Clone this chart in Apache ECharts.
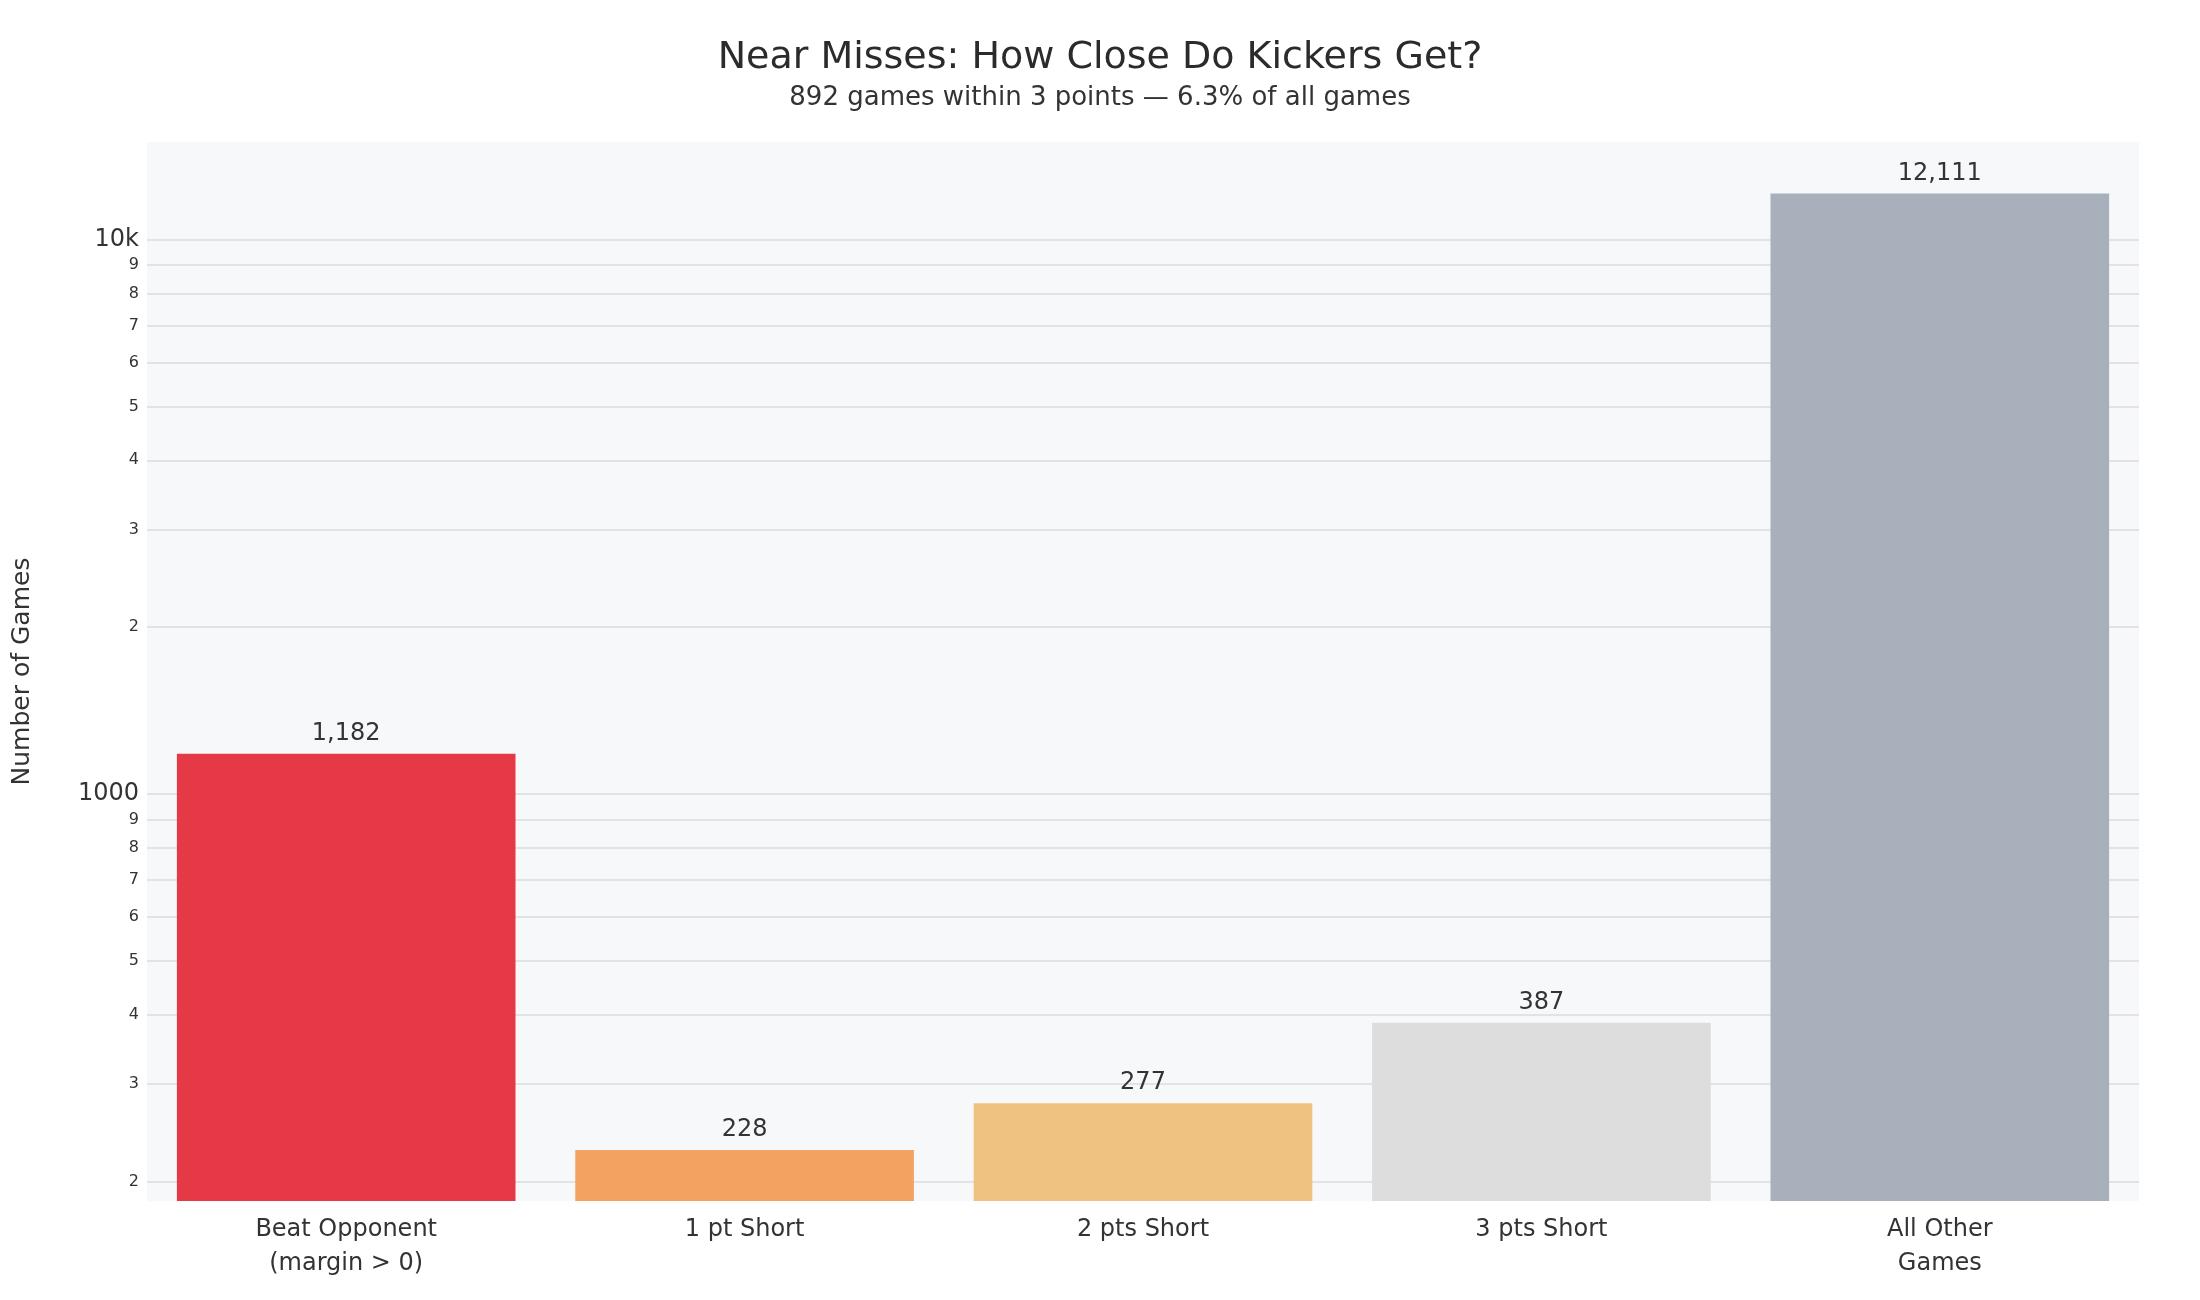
<!DOCTYPE html>
<html>
<head>
<meta charset="utf-8">
<script src="https://cdn.jsdelivr.net/npm/echarts@6/dist/echarts.min.js"></script>
<style>html,body{margin:0;padding:0;background:#fff}#main{width:2200px;height:1300px}</style>
</head>
<body>
<div id="main"></div>
<script>
const categories = ['Beat Opponent\n(margin > 0)', '1 pt Short', '2 pts Short', '3 pts Short', 'All Other\nGames'];
const games = [1182, 228, 277, 387, 12111];
const barColors = ['#e63946', '#f4a261', '#f0c27f', '#dddddd', '#a8b1bb'];
const gridValues = [200, 300, 400, 500, 600, 700, 800, 900, 1000, 2000, 3000, 4000, 5000, 6000, 7000, 8000, 9000, 10000];
const majorLabels = { 1000: '1000', 10000: '10k' };

const chart = echarts.init(document.getElementById('main'));
const font = 'DejaVu Sans';

chart.setOption({
  backgroundColor: '#ffffff',
  textStyle: { fontFamily: font },
  title: {
    text: 'Near Misses: How Close Do Kickers Get?',
    subtext: '892 games within 3 points \u2014 6.3% of all games',
    left: 'center', top: 34, itemGap: 8,
    textStyle: { fontFamily: font, fontSize: 38, fontWeight: 'normal', color: '#2b2b2b' },
    subtextStyle: { fontFamily: font, fontSize: 26, color: '#333' }
  },
  grid: { left: 147, right: 61, top: 142, bottom: 99, show: true, backgroundColor: '#f7f8fa', borderWidth: 0 },
  xAxis: {
    type: 'category', data: categories,
    axisLine: { show: false }, axisTick: { show: false },
    axisLabel: { fontSize: 24, color: '#333', lineHeight: 34, margin: 12 }
  },
  yAxis: {
    type: 'log', min: 184.5, max: 15000,
    name: 'Number of Games', nameLocation: 'middle', nameGap: 112,
    nameTextStyle: { fontSize: 25, color: '#333' },
    axisLabel: { show: false }, axisTick: { show: false }, axisLine: { show: false },
    splitLine: { show: false }
  },
  series: [
    {
      type: 'line', data: [], zlevel: 0, z: 1, silent: true,
      markLine: {
        silent: true, symbol: 'none', animation: false,
        lineStyle: { color: '#dcdde0', type: 'solid', width: 1.5 },
        data: gridValues.map(v => ({
          yAxis: v,
          label: {
            show: true, position: 'start', distance: 8,
            formatter: majorLabels[v] || String(v / Math.pow(10, Math.floor(Math.log10(v)))),
            fontSize: majorLabels[v] ? 24 : 16, color: '#333', fontFamily: font
          }
        }))
      }
    },
    {
      type: 'bar', zlevel: 1, z: 2, barCategoryGap: '15%',
      data: games.map((v, i) => ({ value: v, itemStyle: { color: barColors[i] } })),
      label: {
        show: true, position: 'top', distance: 8, fontSize: 24, color: '#333',
        formatter: p => p.value.toLocaleString('en-US')
      }
    }
  ]
});
</script>
</body>
</html>
